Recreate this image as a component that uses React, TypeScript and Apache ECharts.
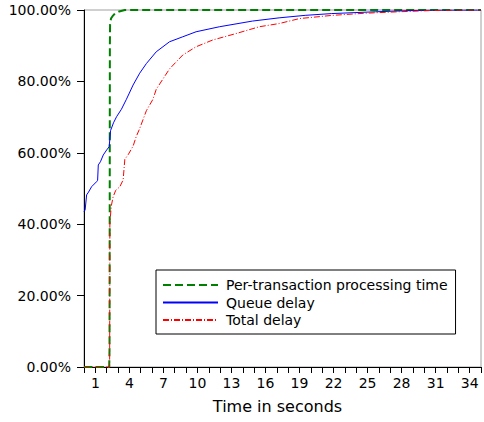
import React, { useEffect, useRef } from "react";
import * as echarts from "echarts";

const seriesNames = ["Per-transaction processing time", "Queue delay", "Total delay"];

const processingTime: [number, number][] = [
  [0, 0], [2.22, 0], [2.25, 5], [2.27, 50], [2.28, 90], [2.3, 96], [2.38, 97.6],
  [2.5, 98.2], [2.72, 99], [3.1, 99.6], [3.6, 100], [35, 100],
];

const queueDelay: [number, number][] = [
  [0, 43.5], [0.1, 44], [0.23, 48.2], [0.4, 49], [0.67, 50.5], [1.11, 51.9], [1.2, 52.3],
  [1.26, 56.6], [1.45, 57.5], [1.7, 59.4], [2.0, 60.8], [2.22, 61.7], [2.34, 66.2],
  [2.6, 68.4], [2.87, 70.1], [3.3, 72.2], [3.74, 75], [4.33, 79], [4.91, 82.3],
  [5.5, 85], [6.37, 88.3], [7.54, 91.1], [8.71, 92.5], [9.88, 93.9], [11.93, 95.3],
  [14.85, 96.9], [17.2, 97.8], [19.5, 98.5], [21.84, 99], [25.68, 99.5], [28.5, 99.8],
  [30.4, 99.95], [35, 100],
];

const totalDelay: [number, number][] = [
  [0, 0], [2.26, 0], [2.28, 40.2], [2.4, 45], [2.57, 47.7], [2.8, 49.5], [3.16, 50.5],
  [3.45, 52.4], [3.6, 58.2], [3.9, 59.5], [4.33, 61.9], [4.6, 64.5], [4.91, 66.8],
  [5.5, 71.8], [6.08, 75], [6.37, 77.8], [7.54, 83.5], [8.71, 87.4], [9.88, 89.7],
  [11.35, 91.6], [13.4, 93.4], [15.44, 95.3], [17.2, 96.2], [19, 97.6], [21.9, 98.5],
  [24.8, 99.1], [27.7, 99.5], [30.6, 99.85], [33, 99.97], [35, 100],
];

const yTicks = [0, 20, 40, 60, 80, 100];

export default function App() {
  const ref = useRef<HTMLDivElement>(null);
  useEffect(() => {
    if (!ref.current) return;
    const chart = echarts.init(ref.current, null, { renderer: "svg" });
    const font = "DejaVu Sans";
    chart.setOption({
      animation: false,
      textStyle: { fontFamily: font },
      grid: {
        left: 84, right: 1, top: 10, bottom: 55,
        show: true, borderColor: "#a0a0a0", borderWidth: 1, backgroundColor: "transparent",
      },
      legend: {
        orient: "vertical",
        left: 156, top: 270,
        backgroundColor: "#fff",
        borderColor: "#000",
        borderWidth: 1,
        borderRadius: 0,
        padding: [8, 8, 7, 6],
        itemWidth: 55,
        itemHeight: 14,
        itemGap: 3.5,
        itemStyle: { opacity: 0 },
        data: seriesNames,
        textStyle: { fontFamily: font, fontSize: 14, color: "#000", padding: [0, 0, 0, 3] },
      },
      xAxis: {
        type: "value",
        min: 0,
        max: 35,
        interval: 1,
        name: "Time in seconds",
        nameLocation: "middle",
        nameGap: 31,
        nameTextStyle: { fontFamily: font, fontSize: 16, color: "#000", padding: [0, 10, 0, 0] },
        axisLine: { show: true, onZero: false, lineStyle: { color: "#000", width: 1 } },
        axisTick: { show: true, length: 6, lineStyle: { color: "#000" } },
        axisLabel: {
          margin: 9,
          fontFamily: font,
          fontSize: 14,
          color: "#000",
          showMinLabel: true,
          showMaxLabel: true,
          formatter: (v: number) => ((Math.round(v) - 1) % 3 === 0 ? String(Math.round(v)) : ""),
        },
        splitLine: { show: false },
      },
      yAxis: {
        type: "value",
        min: yTicks[0],
        max: yTicks[yTicks.length - 1],
        interval: 20,
        axisLine: { show: true, onZero: false, lineStyle: { color: "#000", width: 1 } },
        axisTick: { show: true, length: 7, lineStyle: { color: "#000" } },
        axisLabel: {
          margin: 13,
          fontFamily: font,
          fontSize: 14,
          color: "#000",
          formatter: (v: number) => v.toFixed(2) + "%",
        },
        splitLine: { show: false },
      },
      series: [
        {
          name: seriesNames[0],
          type: "line",
          data: processingTime,
          symbol: "none",
          lineStyle: { color: "#008000", width: 2, type: [8, 4] },
          itemStyle: { color: "#008000" },
        },
        {
          name: seriesNames[1],
          type: "line",
          data: queueDelay,
          symbol: "none",
          lineStyle: { color: "#0000ff", width: 1, type: "solid" },
          itemStyle: { color: "#0000ff" },
        },
        {
          name: seriesNames[2],
          type: "line",
          data: totalDelay,
          symbol: "none",
          lineStyle: { color: "#ff0000", width: 1, type: [6, 2, 1, 2] },
          itemStyle: { color: "#ff0000" },
        },
      ],
    });
    return () => chart.dispose();
  }, []);
  return <div ref={ref} style={{ width: 484, height: 422, position: "absolute", left: 0, top: 0 }} />;
}
